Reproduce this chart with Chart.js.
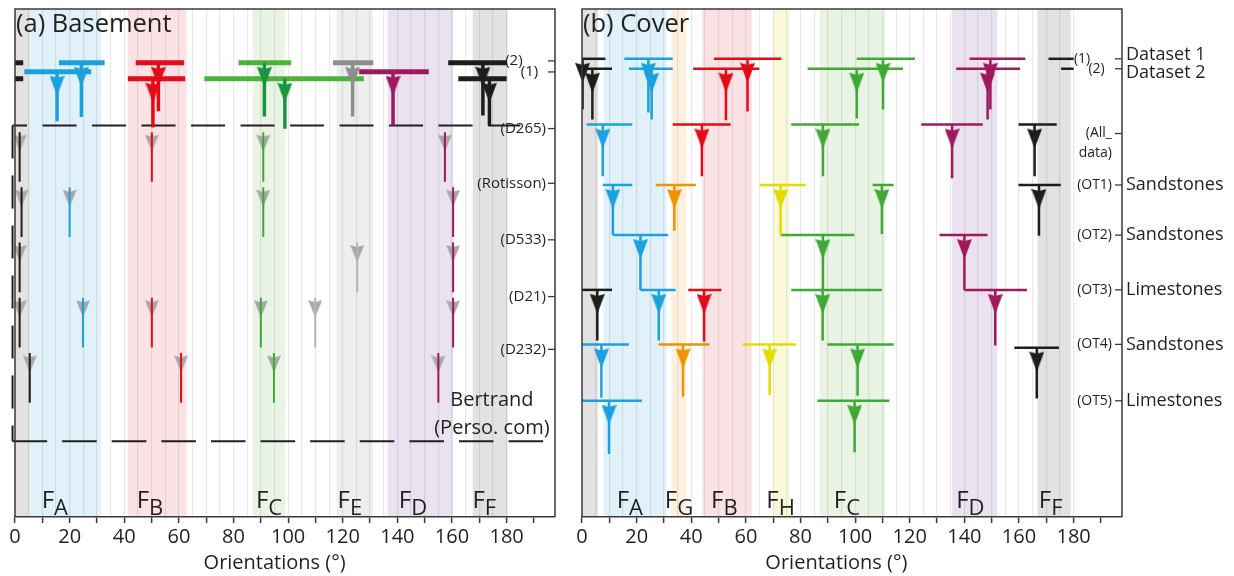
<!DOCTYPE html>
<html><head><meta charset="utf-8">
<script src="https://cdn.jsdelivr.net/npm/chart.js@4/dist/chart.umd.min.js"></script>
<style>
html,body{margin:0;padding:0;background:#fff;}
#wrap{position:relative;width:1234px;height:576px;overflow:hidden;background:#fff;}
#c1{position:absolute;left:0;top:0;}
#c2{position:absolute;left:570px;top:0;}
</style></head><body>
<div id="wrap"><canvas id="c1" width="570" height="576"></canvas><canvas id="c2" width="664" height="576"></canvas></div>
<script>
const FONT = "'Open Sans', 'Noto Sans', 'DejaVu Sans', sans-serif";
const INK = '#231f20';
Chart.defaults.font.family = FONT;
Chart.defaults.color = INK;

// ---------- orientation axis tick labels (degrees)
const orientationTicks = [0, 20, 40, 60, 80, 100, 120, 140, 160, 180];

// ---------- fracture family colours
const familyColors = {A:'#1ba1dd', B:'#e30b17', C:'#40a936', D:'#a0185e', E:'#8e8e8e', F:'#1d1d1b', G:'#f39200', H:'#e3dc00'};
const bandColors   = {A:'#e0f1fa', B:'#fbe2e4', C:'#eaf4e5', D:'#ebe2ef', E:'#edefee', F:'#e2e2e2', G:'#fdf0df', H:'#fbf9dc'};

// ================= (a) Basement =================
// family orientation ranges [from, to, family]
const basementBands = [[0, 5.4, 'F'], [5.4, 31.5, 'A'], [41.3, 62.8, 'B'], [87.0, 98.9, 'C'], [117.7, 131.0, 'E'], [136.4, 160.4, 'D'], [167.6, 180.3, 'F']];
// family names [subscript, orientation]
const basementBandNames = [['A', 14.6], ['B', 49.4], ['C', 93.0], ['E', 122.6], ['D', 145.7], ['F', 171.8]];
// row labels [text, row, tick]
const basementRowLabels = [['(2)      ', 0.74, true], ['(1)  ', 0.94, true], ['(D265)', 1.965, true], ['(Rotisson)', 2.957, true], ['(D533)', 3.98, true], ['(D21)', 5.008, true], ['(D232)', 5.964, true]];
// datasets 1 & 2: [family, mean orientation, row, range from, range to, stem end row]
const basementDatasetMarks = [
  ['A', 15.4, 0.936, 3.4, 27.9, 1.833],
  ['A', 24.3, 0.774, 16.1, 32.8, 1.754],
  ['B', 52.5, 0.774, 44.2, 61.9, 1.653],
  ['B', 50.5, 1.063, 41.3, 62.3, 1.947],
  ['C', 91.3, 0.774, 81.8, 101.1, 1.748],
  ['C', 98.8, 1.063, 69.3, 127.7, 1.970],
  ['E', 123.6, 0.774, 116.4, 131.2, 1.748],
  ['D', 138.4, 0.936, 126.0, 151.5, 1.911],
  ['F', 171.3, 0.774, 158.6, 183.0, 1.730],
  ['F', 173.7, 1.063, 162.3, 183.0, 1.911]
];
// site measurements: [family, orientation, row]
const basementSiteMarks = [
  ['F', 1.7, 2], ['B', 50.1, 2], ['C', 90.9, 2], ['D', 157.4, 2],
  ['F', 2.4, 3], ['A', 20.0, 3], ['C', 90.9, 3], ['D', 160.4, 3],
  ['F', 1.7, 4], ['E', 125.3, 4], ['D', 160.4, 4],
  ['F', 1.7, 5], ['A', 24.9, 5], ['B', 50.1, 5], ['C', 90.0, 5], ['E', 109.9, 5], ['D', 160.4, 5],
  ['F', 5.4, 6], ['B', 60.8, 6], ['C', 94.8, 6], ['D', 155.0, 6]
];
const basementNotes = [['Bertrand', 174.6, 6.884], ['(Perso. com)', 174.6, 7.395]];

// ================= (b) Cover =================
const coverBands = [[0, 5.9, 'F'], [7.9, 30.9, 'A'], [32.7, 38.1, 'G'], [44.0, 62.2, 'B'], [69.9, 76.1, 'H'], [87.0, 111.0, 'C'], [135.5, 152.1, 'D'], [166.8, 178.9, 'F']];
const coverBandNames = [['A', 17.5], ['G', 35.5], ['B', 52.1], ['H', 72.7], ['C', 97.0], ['D', 142.2], ['F', 171.6]];
const coverRowLabels = [['(1)      ', 0.702, true], ['(2)  ', 0.882, true], ['(All_', 2.055, true], ['data)', 2.416, false], ['(OT1)', 2.987, true], ['(OT2)', 3.895, true], ['(OT3)', 4.887, true], ['(OT4)', 5.874, true], ['(OT5)', 6.895, true]];
const coverLithology = [['Dataset 1', 0.63], ['Dataset 2', 0.955], ['Sandstones', 2.987], ['Sandstones', 3.895], ['Limestones', 4.887], ['Sandstones', 5.874], ['Limestones', 6.895]];
// [family, mean orientation, row, range from, range to, stem end row]
const coverMarks = [
  ['F', 0.2, 0.702, -9.2, 8.6, 1.622],
  ['F', 3.8, 0.882, -4.6, 11.0, 1.802],
  ['A', 24.3, 0.702, 15.5, 33.2, 1.676],
  ['A', 25.5, 0.882, 17.2, 33.2, 1.802],
  ['B', 60.6, 0.702, 48.3, 73.0, 1.658],
  ['B', 52.7, 0.882, 40.7, 64.9, 1.815],
  ['C', 110.2, 0.702, 100.6, 121.9, 1.622],
  ['C', 100.6, 0.882, 82.6, 117.5, 1.784],
  ['D', 149.5, 0.702, 141.9, 162.3, 1.622],
  ['D', 148.5, 0.882, 137.0, 160.4, 1.802],
  ['A', 7.6, 1.893, 1.7, 18.4, 2.831],
  ['B', 43.9, 1.893, 33.2, 54.4, 2.831],
  ['C', 88.2, 1.893, 76.6, 101.4, 2.831],
  ['D', 135.5, 1.893, 124.2, 146.7, 2.867],
  ['F', 165.7, 1.893, 159.8, 173.8, 2.831],
  ['A', 11.3, 2.987, 7.6, 18.4, 3.895],
  ['G', 33.8, 2.987, 27.0, 41.7, 3.817],
  ['H', 72.7, 2.987, 65.0, 81.9, 3.895],
  ['C', 109.8, 2.987, 106.4, 114.1, 3.877],
  ['F', 167.3, 2.987, 159.8, 175.3, 3.908],
  ['A', 21.4, 3.895, 11.3, 31.5, 4.887],
  ['C', 88.2, 3.895, 72.7, 99.7, 4.887],
  ['D', 140.0, 3.895, 130.9, 148.5, 4.887],
  ['F', 5.6, 4.887, 0.0, 11.0, 5.802],
  ['A', 28.1, 4.887, 21.4, 34.3, 5.802],
  ['B', 44.7, 4.887, 38.9, 51.0, 5.820],
  ['C', 88.1, 4.887, 76.6, 109.8, 5.802],
  ['D', 151.3, 4.887, 140.0, 162.9, 5.892],
  ['A', 7.1, 5.874, 0.0, 17.2, 6.841],
  ['G', 37.0, 5.874, 28.0, 46.7, 6.823],
  ['H', 68.7, 5.874, 58.8, 78.4, 6.794],
  ['C', 100.9, 5.874, 89.8, 114.1, 6.805],
  ['F', 166.5, 5.933, 158.3, 174.6, 6.853],
  ['A', 9.9, 6.895, 0.0, 21.9, 7.858],
  ['C', 99.8, 6.895, 86.2, 112.6, 7.827]
];

// ---------- helpers
function wrapRanges(a, b) { // orientations are circular with period 180
  if (a < 0) return [[a + 180, 180], [0, b]];
  if (b > 180) return [[a, 180], [0, b - 180]];
  return [[a, b]];
}
const triCache = {};
function triImage(color, w, h, gap) {
  const key = [color, w, h, gap].join('|');
  if (triCache[key]) return triCache[key];
  const c = document.createElement('canvas');
  c.width = w; c.height = 2 * (h + gap);
  const g = c.getContext('2d');
  g.fillStyle = color;
  g.beginPath();
  g.moveTo(0, h + 2 * gap);
  g.lineTo(w / 2, h + 2 * gap + 2);
  g.lineTo(w, h + 2 * gap);
  g.lineTo(w / 2, 2 * h + 2 * gap);
  g.closePath();
  g.fill();
  triCache[key] = c;
  return c;
}
function seg(x0, y0, x1, y1, color, width, order, extra) {
  return Object.assign({data: [{x: x0, y: y0}, {x: x1, y: y1}], showLine: true, borderColor: color,
    backgroundColor: color, borderWidth: width, pointRadius: 0, order: order, borderCapStyle: 'butt'}, extra || {});
}
function tri(xv, yv, img, order) {
  return {data: [{x: xv, y: yv}], showLine: false, pointStyle: img, pointRadius: 6, order: order, clip: false};
}

function decorPlugin(cfg) {
  return {
    id: 'decor' + cfg.id,
    beforeDraw(chart) {
      const {ctx, chartArea: a} = chart; const x = chart.scales.x;
      ctx.save();
      cfg.bands.forEach(([f0, f1, fam]) => {
        const p0 = x.getPixelForValue(f0), p1 = x.getPixelForValue(f1);
        ctx.fillStyle = bandColors[fam];
        ctx.fillRect(p0, a.top, p1 - p0, a.bottom - a.top);
      });
      ctx.restore();
    },
    afterDraw(chart) {
      const {ctx, chartArea: a} = chart; const x = chart.scales.x, y = chart.scales.y;
      ctx.save();
      ctx.strokeStyle = '#3a3a3a'; ctx.lineWidth = 1.5;
      ctx.beginPath();
      ctx.moveTo(a.left, a.bottom); ctx.lineTo(a.left, a.top); ctx.lineTo(a.right, a.top); ctx.lineTo(a.right, a.bottom);
      ctx.stroke();
      ctx.fillStyle = INK;
      ctx.textAlign = 'left'; ctx.textBaseline = 'alphabetic';
      ctx.font = '25.5px ' + FONT;
      ctx.fillText(cfg.title, a.left + 1, a.top + 23);
      cfg.bandNames.forEach(([sub, deg]) => {
        ctx.font = '24px ' + FONT; const wF = ctx.measureText('F').width;
        ctx.font = '22px ' + FONT; const wS = ctx.measureText(sub).width;
        const x0 = x.getPixelForValue(deg) - (wF + wS) / 2;
        ctx.font = '24px ' + FONT; ctx.fillText('F', x0, a.bottom - 9);
        ctx.font = '22px ' + FONT; ctx.fillText(sub, x0 + wF, a.bottom - 2);
      });
      ctx.font = cfg.rowFont + 'px ' + FONT;
      ctx.textAlign = 'right'; ctx.textBaseline = 'middle';
      ctx.lineWidth = 1.3;
      cfg.rowLabels.forEach(([txt, v, tick]) => {
        const py = y.getPixelForValue(v);
        ctx.fillText(txt, a.right - cfg.labelGap, py);
        if (tick) { ctx.beginPath(); ctx.moveTo(a.right - 7, py); ctx.lineTo(a.right, py); ctx.stroke(); }
      });
      if (cfg.outer) {
        ctx.font = '18px ' + FONT; ctx.textAlign = 'left';
        cfg.outer.forEach(([txt, v]) => ctx.fillText(txt, a.right + 4, y.getPixelForValue(v)));
      }
      if (cfg.notes) {
        ctx.font = '20px ' + FONT; ctx.textAlign = 'center';
        cfg.notes.forEach(([txt, deg, v]) => ctx.fillText(txt, x.getPixelForValue(deg), y.getPixelForValue(v)));
      }
      ctx.restore();
    }
  };
}

function makeChart(canvasId, cfg, datasets) {
  return new Chart(document.getElementById(canvasId), {
    type: 'scatter',
    data: {datasets},
    options: {
      responsive: false, animation: false, events: [],
      layout: {padding: cfg.padding},
      plugins: {legend: {display: false}, tooltip: {enabled: false}},
      scales: {
        x: {
          type: 'linear', min: 0, max: 197.7,
          ticks: {stepSize: 5, autoSkip: false, includeBounds: false, maxRotation: 0, padding: 2,
            font: {size: 20}, color: INK,
            callback: v => orientationTicks.includes(v) ? String(v) : ''},
          grid: {
            color: c => (c.tick && c.tick.value > 0 && c.tick.value <= 180) ? 'rgba(0,0,0,0.085)' : 'rgba(0,0,0,0)',
            lineWidth: 1.2,
            tickColor: c => (c.tick && c.tick.value % 10 === 0) ? '#3a3a3a' : 'rgba(0,0,0,0)',
            tickLength: 6, tickWidth: 1.5
          },
          border: {color: '#3a3a3a', width: 1.5},
          title: {display: true, text: cfg.xTitle, font: {size: 20}, color: INK, padding: {top: 0, bottom: 1}}
        },
        y: {type: 'linear', display: false, reverse: true, min: -0.2, max: 9.0}
      }
    },
    plugins: [decorPlugin(cfg)]
  });
}

// ---------- build (a)
const dsA = [];
const siteStem = {A: familyColors.A, B: familyColors.B, C: familyColors.C, D: familyColors.D, E: '#b4b4b4', F: '#1d1d1b'};
basementDatasetMarks.forEach(([f, o, row, lo, hi, end]) => {
  const barC = f === 'C' ? '#4cb33a' : familyColors[f];
  const triC = f === 'C' ? '#17963b' : familyColors[f];
  wrapRanges(lo, hi).forEach(([p, q]) => dsA.push(seg(p, row, q, row, barC, 5, 6)));
  dsA.push(seg(o, row, o, end, triC, 3.5, 5));
  dsA.push(tri(o, row, triImage(triC, 15, 20, 4), 4));
});
basementSiteMarks.forEach(([f, o, row]) => {
  dsA.push(seg(o, row + 0.03, o, row + 0.93, siteStem[f], 2, 1));
  dsA.push(tri(o, row + 0.02, triImage('#a8a8a8', 14, 17, 3), 2));
});
dsA.push(seg(-0.9, 1.911, 185, 1.911, INK, 2, 7, {borderDash: [34, 15.5], borderDashOffset: 19.5, clip: false}));
dsA.push(seg(-0.9, 7.629, 193.4, 7.629, INK, 2, 7, {borderDash: [34.6, 15], clip: false}));
dsA.push(seg(-0.9, 1.911, -0.9, 7.629, INK, 2, 7, {borderDash: [33, 17], clip: false}));

makeChart('c1', {
  id: 'A', title: '(a) Basement', bands: basementBands, bandNames: basementBandNames,
  rowLabels: basementRowLabels, rowFont: 15, labelGap: 9, notes: basementNotes,
  xTitle: 'Orientations (°)    ', padding: {left: 15, right: 15, top: 9, bottom: 0}
}, dsA);

// ---------- build (b)
const dsB = [];
coverMarks.forEach(([f, o, row, lo, hi, end]) => {
  const c = familyColors[f];
  wrapRanges(lo, hi).forEach(([p, q]) => dsB.push(seg(p, row, q, row, c, 2.5, 6)));
  dsB.push(seg(o, row, o, end, c, 2.5, 5));
  dsB.push(tri(o, row, triImage(c, 15, 20, 4), 4));
});
makeChart('c2', {
  id: 'B', title: '(b) Cover', bands: coverBands, bandNames: coverBandNames,
  rowLabels: coverRowLabels, rowFont: 14, labelGap: 10, outer: coverLithology,
  xTitle: 'Orientations (°)      ', padding: {left: 12, right: 112, top: 9, bottom: 0}
}, dsB);
</script></body></html>
